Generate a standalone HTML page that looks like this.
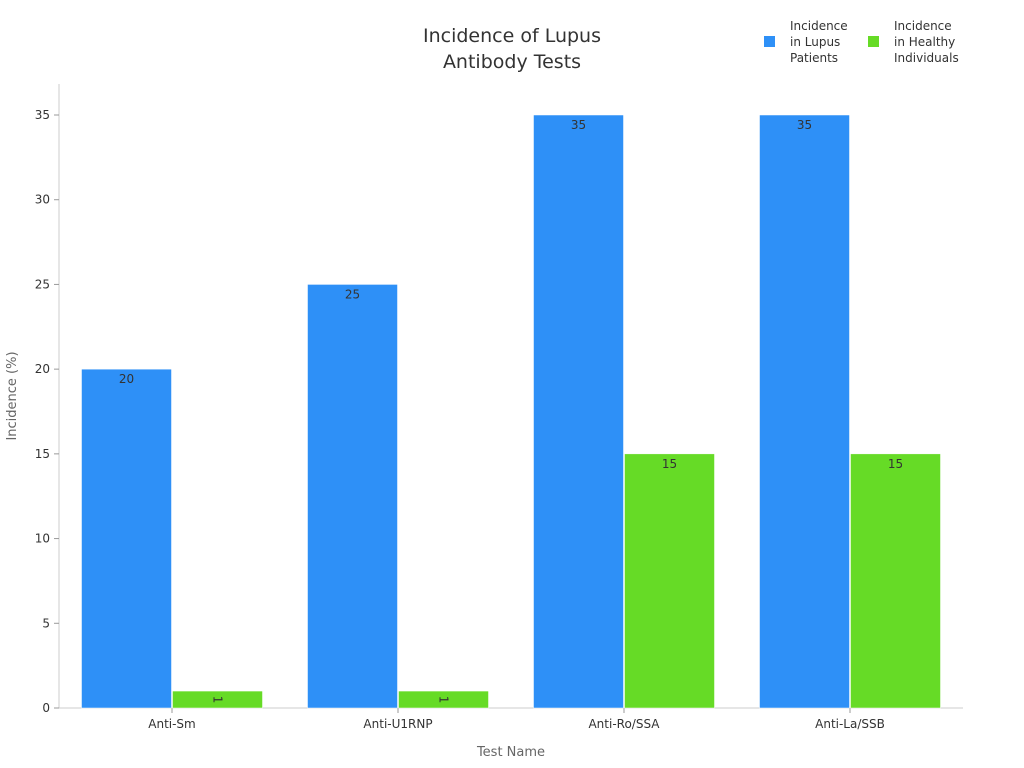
<!DOCTYPE html>
<html><head><meta charset="utf-8"><style>
html,body{margin:0;padding:0;background:#fff;}
svg{display:block;font-family:"DejaVu Sans","Liberation Sans",sans-serif;}
</style></head><body>
<svg id="chart" width="1024" height="768">
<text x="512" y="42" text-anchor="middle" font-size="19" fill="#333"><tspan x="512">Incidence of Lupus</tspan><tspan x="512" dy="26">Antibody Tests</tspan></text>
<g>
<rect x="764" y="36" width="11" height="11" fill="#2e90f7"></rect>
<text x="790" y="30" font-size="12" fill="#333"><tspan x="790">Incidence</tspan><tspan x="790" dy="16">in Lupus</tspan><tspan x="790" dy="16">Patients</tspan></text>
<rect x="868" y="36" width="11" height="11" fill="#66db26"></rect>
<text x="894" y="30" font-size="12" fill="#333"><tspan x="894">Incidence</tspan><tspan x="894" dy="16">in Healthy</tspan><tspan x="894" dy="16">Individuals</tspan></text>
</g>
<text transform="translate(16,396) rotate(-90)" text-anchor="middle" font-size="13" fill="#666">Incidence (%)</text>
<text x="511" y="756" text-anchor="middle" font-size="13" fill="#666">Test Name</text>
</svg>
<script>
const categories = ["Anti-Sm","Anti-U1RNP","Anti-Ro/SSA","Anti-La/SSB"];
const lupusValues = [20,25,35,35];
const healthyValues = [1,1,15,15];
const yTicks = [0,5,10,15,20,25,30,35];

const svg = document.getElementById('chart');
const NS = 'http://www.w3.org/2000/svg';
const x0 = 59, x1 = 963, yBase = 708, yTop = 115, yMaxVal = 35;
const y = v => yBase - v * (yBase - yTop) / yMaxVal;
const band = (x1 - x0) / categories.length;
const bandX = i => x0 + i * band;
function mk(tag, attrs, parent) {
  const e = document.createElementNS(NS, tag);
  for (const k in attrs) e.setAttribute(k, attrs[k]);
  (parent || svg).appendChild(e);
  return e;
}
// axes
const yAxis = mk('line', {x1: x0, x2: x0, y1: 84, y2: yBase, stroke: '#ccc'});


const xAxis = mk('line', {x1: x0, x2: x1, y1: yBase, y2: yBase, stroke: '#ccc'});


yTicks.forEach(t => {
  const tk = mk('line', {x1: x0 - 5, x2: x0, y1: y(t), y2: y(t), stroke: '#999'});
  
  
  const lb = mk('text', {x: x0 - 9, y: y(t) + 4, 'text-anchor': 'end', 'font-size': 12, fill: '#333'});
  lb.textContent = t;
  
  
});
const bw = 90;
categories.forEach((c, i) => {
  const cx = bandX(i) + band / 2;
  const tk = mk('line', {x1: cx, x2: cx, y1: yBase, y2: yBase + 5, stroke: '#999'});
  
  
  const lb = mk('text', {x: cx, y: yBase + 20, 'text-anchor': 'middle', 'font-size': 12, fill: '#333'});
  lb.textContent = c;
  
  
  [[lupusValues[i], '#2e90f7', cx - bw - 0.5, 'bar-lupus'], [healthyValues[i], '#66db26', cx + 0.5, 'bar-healthy']].forEach(([v, col, bx, nm]) => {
    const r = mk('rect', {x: bx, y: y(v), width: bw, height: yBase - y(v), fill: col, stroke: '#fff', 'stroke-width': 0.5});
    
    
    let t;
    if (yBase - y(v) < 25) {
      t = mk('text', {x: 0, y: 0, 'text-anchor': 'middle', 'font-size': 12, fill: '#333', transform: `translate(${bx + bw / 2 - 4},${(y(v) + yBase) / 2}) rotate(90)`});
    } else {
      t = mk('text', {x: bx + bw / 2, y: y(v) + 14, 'text-anchor': 'middle', 'font-size': 12, fill: '#333'});
    }
    t.textContent = v;
    
    
  });
});
</script>
</body></html>
